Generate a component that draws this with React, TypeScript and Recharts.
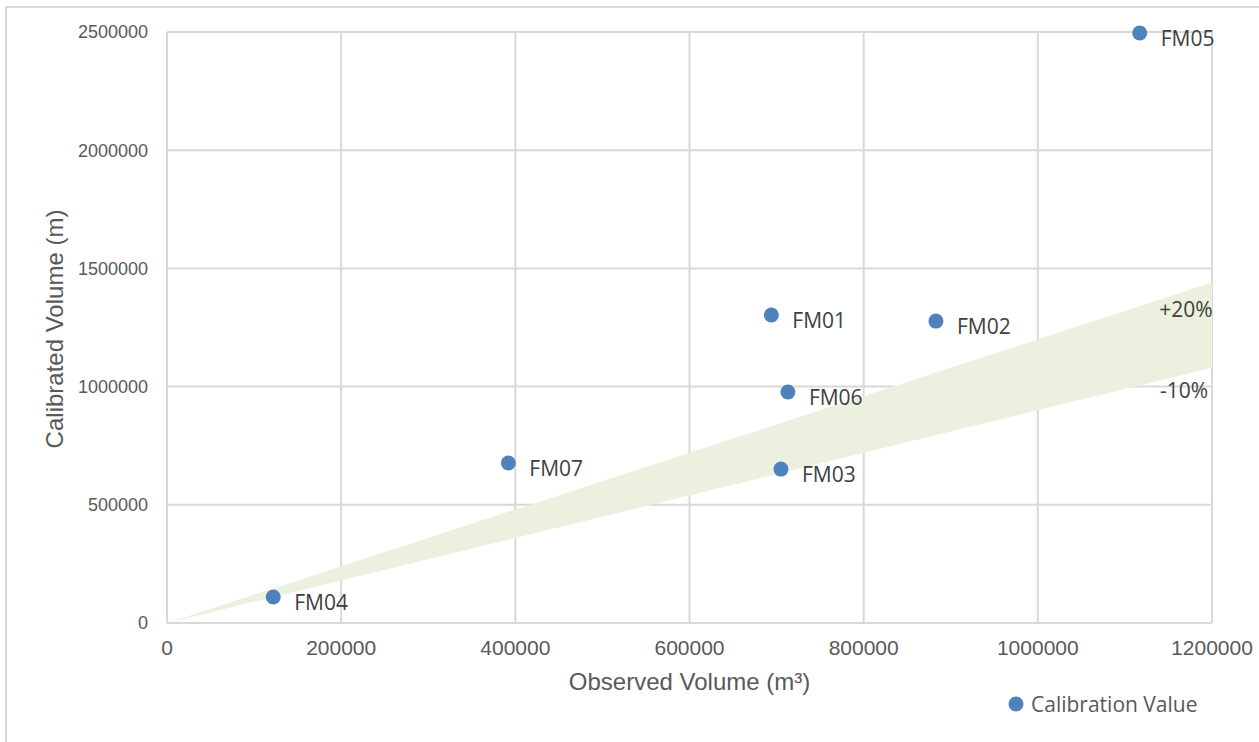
import React from "react";
import {
  ComposedChart,
  Area,
  Scatter,
  XAxis,
  YAxis,
  CartesianGrid,
  ReferenceDot,
  Label,
  Legend,
} from "recharts";

// flow monitor sites, observed vs calibrated volume
const sites = ["FM01", "FM02", "FM03", "FM04", "FM05", "FM06", "FM07"];
const observed = [694000, 883000, 705000, 122000, 1117000, 713000, 392000];
const calibrated = [1303000, 1277000, 651000, 110000, 2496000, 977000, 677000];

// tolerance band (-10% .. +20%) along the 1:1 line
const bandX = [0, 1200000];
const bandLow = [0, 1080000];
const bandHigh = [0, 1440000];

const xTicks = [0, 200000, 400000, 600000, 800000, 1000000, 1200000];
const yTicks = [0, 500000, 1000000, 1500000, 2000000, 2500000];

const BLUE = "#4f81bd";
const GRID = "#d9d9d9";
const TEXT = "#595959";
const ARIAL = "'Liberation Sans', Arial, sans-serif";
const CALIBRI = "'Open Sans', 'Noto Sans', sans-serif";

const bandData = bandX.map((x, i) => ({ x, band: [bandLow[i], bandHigh[i]] }));
const pointData = sites.map((name, i) => ({
  name,
  x: observed[i],
  y: calibrated[i],
}));

const PointShape = (props: any) => {
  const { cx, cy, payload } = props;
  return (
    <g>
      <circle cx={cx} cy={cy} r={7.5} fill={BLUE} />
      <text
        x={cx + 21}
        y={cy + 13}
        fontSize={21}
        fontFamily={CALIBRI}
        fill="#404040"
      >
        {payload.name}
      </text>
    </g>
  );
};

const BandLabel = (text: string, dx: number, dy: number) => (props: any) => {
  const { viewBox } = props;
  return (
    <text
      x={viewBox.x + dx}
      y={viewBox.y + dy}
      textAnchor="middle"
      fontSize={21}
      fontFamily={CALIBRI}
      fill="#404040"
    >
      {text}
    </text>
  );
};

const LegendContent = () => (
  <div style={{ display: "flex", alignItems: "center" }}>
    <svg width={18} height={18}>
      <circle cx={9} cy={9} r={7.5} fill={BLUE} />
    </svg>
    <span
      style={{
        marginLeft: 6,
        fontSize: 21,
        fontFamily: CALIBRI,
        color: TEXT,
      }}
    >
      Calibration Value
    </span>
  </div>
);

export default function App() {
  return (
    <div
      style={{
        position: "absolute",
        left: 0,
        top: 0,
        width: 1259,
        height: 742,
        overflow: "hidden",
        background: "#fff",
      }}
    >
      <div
        style={{
          position: "absolute",
          left: 5,
          top: 6,
          width: 1300,
          height: 800,
          border: `2px solid ${GRID}`,
        }}
      />
      <ComposedChart
        width={1259}
        height={742}
        data={bandData}
        margin={{ top: 32, right: 47, bottom: 0, left: 0 }}
      >
        <CartesianGrid stroke={GRID} strokeWidth={2} />
        <XAxis
          type="number"
          dataKey="x"
          domain={[0, 1200000]}
          ticks={xTicks}
          interval={0}
          height={119}
          tickLine={false}
          tickSize={0}
          tickMargin={17}
          axisLine={{ stroke: GRID, strokeWidth: 2 }}
          tick={{ fill: TEXT, fontSize: 21, fontFamily: ARIAL }}
        >
          <Label
            content={(p: any) => (
              <text
                x={p.viewBox.x + p.viewBox.width / 2}
                y={p.viewBox.y + 67}
                textAnchor="middle"
                fontSize={24}
                fontFamily={ARIAL}
                fill={TEXT}
              >
                Observed Volume (m³)
              </text>
            )}
          />
        </XAxis>
        <YAxis
          type="number"
          dataKey="y"
          domain={[0, 2500000]}
          ticks={yTicks}
          interval={0}
          width={167}
          tickLine={false}
          tickSize={0}
          tickMargin={19}
          axisLine={{ stroke: GRID, strokeWidth: 2 }}
          tick={{ fill: TEXT, fontSize: 18, fontFamily: ARIAL }}
        >
          <Label
            content={() => (
              <text
                x={63}
                y={329}
                textAnchor="middle"
                fontSize={24}
                fontFamily={ARIAL}
                fill={TEXT}
                transform="rotate(-90 63 329)"
              >
                Calibrated Volume (m)
              </text>
            )}
          />
        </YAxis>
        <Area
          dataKey="band"
          type="linear"
          stroke="none"
          fill="#ebf1de"
          fillOpacity={1}
          isAnimationActive={false}
          legendType="none"
          activeDot={false}
        />
        <Scatter
          name="Calibration Value"
          data={pointData}
          dataKey="y"
          fill={BLUE}
          shape={PointShape}
          isAnimationActive={false}
        />
        <ReferenceDot
          x={bandX[1]}
          y={bandHigh[1]}
          r={0}
          ifOverflow="visible"
          label={BandLabel("+20%", -26, 34)}
        />
        <ReferenceDot
          x={bandX[1]}
          y={bandLow[1]}
          r={0}
          ifOverflow="visible"
          label={BandLabel("-10%", -28, 30)}
        />
        <Legend
          layout="horizontal"
          verticalAlign="middle"
          align="center"
          content={LegendContent}
          wrapperStyle={{ left: 1007, top: 690, width: "auto", height: 24 }}
        />
      </ComposedChart>
    </div>
  );
}
